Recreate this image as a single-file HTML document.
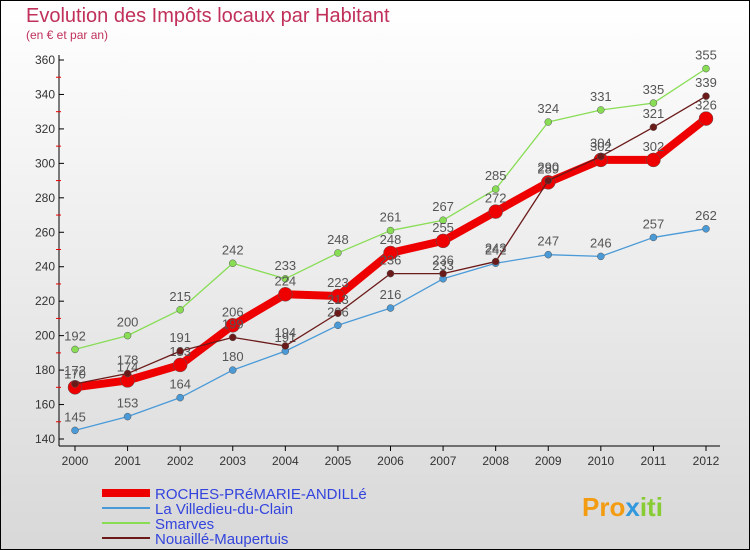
<!DOCTYPE html>
<html><head><meta charset="utf-8"><style>
body{margin:0;width:750px;height:550px;overflow:hidden;font-family:"Liberation Sans","DejaVu Sans",sans-serif}
svg{display:block}
</style></head><body>
<svg id="c" width="750" height="550">
<defs><linearGradient id="bg" x1="0" y1="0" x2="0" y2="1"><stop offset="0" stop-color="#ffffff"/><stop offset="1" stop-color="#d8d8d8"/></linearGradient></defs>
<rect x="0.5" y="0.5" width="749" height="549" fill="url(#bg)" stroke="#000"/>
<text x="26" y="22" font-size="20" fill="#c0305a">Evolution des Impôts locaux par Habitant</text>
<text x="26" y="39" font-size="12" fill="#c0305a">(en € et par an)</text>
<g id="axes"></g><g id="series"></g><g id="legend"></g>
<text x="582" y="516" font-size="26" font-weight="bold" fill="#f39c12">Pro<tspan fill="#3399dd">x</tspan><tspan fill="#88cc33">iti</tspan></text>
</svg>
<script>
const years=[2000,2001,2002,2003,2004,2005,2006,2007,2008,2009,2010,2011,2012];
const yTicks=[140,160,180,200,220,240,260,280,300,320,340,360];
const roches=[170,174,183,206,224,223,248,255,272,289,302,302,326];
const villedieu=[145,153,164,180,191,206,216,233,242,247,246,257,262];
const smarves=[192,200,215,242,233,248,261,267,285,324,331,335,355];
const nouaille=[172,178,191,199,194,213,236,236,243,290,304,321,339];
const NS="http://www.w3.org/2000/svg";
function X(i){return 75+i*(706-75)/12;}
function Y(v){return 439-(v-140)*(439-60)/220;}
function mk(t,a,p){const e=document.createElementNS(NS,t);for(const k in a)e.setAttribute(k,a[k]);p.appendChild(e);return e;}
const ax=document.getElementById('axes');
const yl=mk('line',{x1:59,y1:55,x2:59,y2:446,stroke:'#000'},ax);


const xl=mk('line',{x1:59,y1:446,x2:720,y2:446,stroke:'#000'},ax);


yTicks.forEach((v,i)=>{
  mk('line',{x1:59,y1:Y(v),x2:64,y2:Y(v),stroke:'#000'},ax);
  if(i<yTicks.length-1) mk('line',{x1:56,y1:Y(v+10),x2:61,y2:Y(v+10),stroke:'#e00'},ax);
  const t=mk('text',{x:55,y:Y(v)+4,'font-size':12,'text-anchor':'end',fill:'#333'},ax);
  t.textContent=v;
  
  
});
years.forEach((y,i)=>{
  mk('line',{x1:X(i),y1:446,x2:X(i),y2:451,stroke:'#000'},ax);
  const t=mk('text',{x:X(i),y:465,'font-size':12,'text-anchor':'middle',fill:'#333'},ax);
  t.textContent=y;
  
  
});
const sg=document.getElementById('series');
function series(d,color,w,r,name){
  const g=mk('g',{},sg);
  
  
  mk('polyline',{points:d.map((v,i)=>X(i)+','+Y(v)).join(' '),fill:'none',stroke:color,'stroke-width':w,'stroke-linejoin':'round'},g);
  d.forEach((v,i)=>{
    const c=mk('circle',{cx:X(i),cy:Y(v),r:r,fill:color,stroke:'#555','stroke-width':0.5},g);
    
    
    const t=mk('text',{x:X(i),y:Y(v)-9,'font-size':13,'text-anchor':'middle',fill:'#555'},g);
    t.textContent=v;
    
    
  });
}
series(villedieu,'#4a9ad8',1.3,3.5,'villedieu-series');
series(smarves,'#88dd55',1.3,3.5,'smarves-series');
series(roches,'#ee0000',8,7,'roches-series');
series(nouaille,'#6b1a1a',1.3,3.5,'nouaille-series');
const lg=document.getElementById('legend');
const names=['ROCHES-PRéMARIE-ANDILLé','La Villedieu-du-Clain','Smarves','Nouaillé-Maupertuis'];
const cols=['#ee0000','#4a9ad8','#88dd55','#6b1a1a'];
const ws=[8,2,2,2];
names.forEach((n,i)=>{
  const y=493+i*15;
  const l=mk('line',{x1:102,y1:y,x2:150,y2:y,stroke:cols[i],'stroke-width':ws[i]},lg);
  
  
  const t=mk('text',{x:155,y:y+6,'font-size':15,fill:'#3344dd'},lg);
  t.textContent=n;
  
  
});
</script>
</body></html>
